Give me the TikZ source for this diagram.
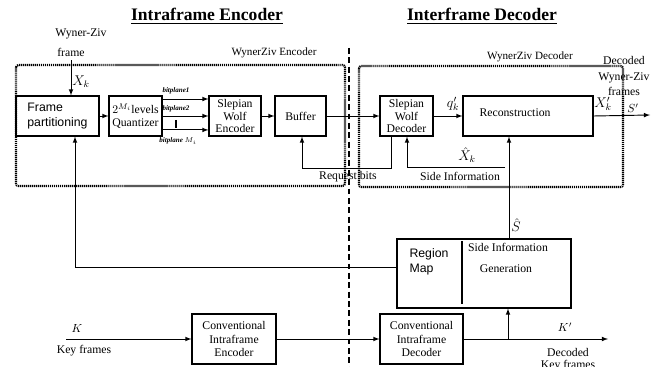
\documentclass[tikz,border=0pt]{standalone}
\usepackage{fontspec}
\setmainfont{Liberation Serif}
\setsansfont{Liberation Sans}
\usepackage{amsmath}
\usepackage{tikz}

\begin{document}
\begin{tikzpicture}[x=0.03cm, y=-0.03cm, >=latex, font=\fontsize{10}{10.5}\selectfont,
  blk/.style = {draw, line width=1pt, inner sep=1pt, align=center, minimum height=1.2cm},
  wz/.style = {draw, line width=1.8pt, dash pattern=on 1pt off 0.7pt, rounded corners=2pt},
  bp/.style = {font=\fontsize{6}{6}\selectfont\bfseries\itshape, inner sep=0pt},
  sym/.style = {font=\large, inner sep=0.5pt},
  lnk/.style = {->, line width=0.8pt}]
  \useasboundingbox (0,0) rectangle (661,367);
  \node (intra) at (207,16) {\fontsize{15}{17}\selectfont\bfseries\underline{Intraframe Encoder}};
  \node (inter) at (482,16) {\fontsize{15}{17}\selectfont\bfseries\underline{Interframe Decoder}};
  \draw[line width=1.5pt, dash pattern=on 5pt off 3pt] (349,48) -- (349,367);
  \draw[wz] (16,65) rectangle (345,186);
  \draw[wz] (359,66) rectangle (623,187);
  \node (enclab) at (274,53) {\fontsize{9.5}{10}\selectfont WynerZiv Encoder};
  \node (declab) at (530,57) {\fontsize{9.5}{10}\selectfont WynerZiv Decoder};

  \node[blk, font=\sffamily\fontsize{10.5}{13}\selectfont, align=left, minimum width=2.49cm] (part) at (57.5,116) {Frame\\partitioning};
  \node[blk, minimum width=1.59cm] (quant) at (135.5,116) {$2^{M_i}$levels\\Quantizer};
  \node[blk, minimum width=1.56cm] (swe) at (235,116) {Slepian\\Wolf\\Encoder};
  \node[blk, minimum width=1.53cm] (buf) at (300.5,116) {Buffer};
  \node[blk, minimum width=1.59cm] (swd) at (406.5,116) {Slepian\\Wolf\\Decoder};
  \node[blk, minimum width=3.9cm] (recon) at (528,116) {};
  \node (recontxt) at (515,113) {Reconstruction};
  \node[blk, minimum width=5.22cm, minimum height=2.07cm] (rmap) at (484,273.5) {};
  \draw[line width=1pt] (462,241) -- (462,304);
  \node[font=\sffamily\fontsize{10.5}{13}\selectfont, align=left] (region) at (429,262) {Region\\Map};
  \node (sigen) at (508,247) {Side Information};
  \node (gen) at (506,269) {Generation};
  \node[blk, minimum width=2.52cm, minimum height=1.5cm, font=\fontsize{10}{11.5}\selectfont] (cenc) at (234,339) {Conventional\\Intraframe\\Encoder};
  \node[blk, minimum width=2.49cm, minimum height=1.5cm, font=\fontsize{10}{11.5}\selectfont] (cdec) at (421.5,339) {Conventional\\Intraframe\\Decoder};

  \node (wzf1) at (81,34) {Wyner-Ziv};
  \node (wzf2) at (71,52) {frame};
  \node[sym] (xk) at (81,82) {$X_k$};
  \draw[lnk] (wzf2) -- (wzf2 |- part.north);
  \draw[lnk] (part) -- (quant);
  \draw[lnk] ([yshift=14.5pt]quant.east) -- ([yshift=14.5pt]swe.west);
  \draw[lnk] (quant) -- (swe);
  \draw[lnk] ([yshift=-11.9pt]quant.east) -- ([yshift=-11.9pt]swe.west);
  \node[bp] (bp1) at (176,91) {bitplane1};
  \node[bp] (bp2) at (176,109) {bitplane2};
  \node[bp] (bp3) at (178,141) {bitplane $M_i$};
  \draw[line width=1.5pt] (176,120) -- (176,128);
  \draw[lnk] (swe) -- (buf);
  \draw[lnk] (buf) -- (swd);
  \draw[lnk] (swd) -- (recon);
  \node[sym] (qk) at (453,104) {$q'_k$};
  \coordinate (wzout) at (650,115);
  \draw[lnk] (recon.east) -- (wzout);
  \node[sym] (xo) at (603,104) {$X'_k$};
  \node (so) at (633,108) {$S'$};
  \node[align=center, font=\fontsize{10}{13}\selectfont] (decwz) at (624,76) {Decoded\\Wyner-Ziv\\frames};

  % request bits / side information
  \coordinate (rq1) at (391,168);
  \coordinate (rq2) at (302,168);
  \draw[lnk] (rq1 |- swd.south) -- (rq1) -- (rq2) -- (rq2 |- buf.south);
  \node (rqlab) at (348,177) {Request bits};
  \coordinate (si1) at (505,167);
  \coordinate (si2) at (407,167);
  \draw[lnk] (si1) -- (si2) -- (si2 |- swd.south);
  \node[sym] (xhat) at (467,155) {$\hat{X}_k$};
  \node (silab) at (460,176) {Side Information};
  \coordinate (sh) at (509,200);
  \draw[lnk] (sh |- rmap.north) -- (sh |- recon.south);
  \node[sym] (shat) at (516,225) {$\hat{S}$};
  \coordinate (fb) at (75,267);
  \draw[lnk] (rmap.west |- fb) -- (fb) -- (fb |- part.south);

  % key frames
  \coordinate (kin) at (66,339);
  \coordinate (kout) at (608,339);
  \coordinate (kb) at (508,339);
  \draw[lnk] (kin) -- (cenc);
  \draw[lnk] (cenc) -- (cdec);
  \draw[lnk] (cdec) -- (kout);
  \draw[lnk] (kb) -- (kb |- rmap.south);
  \node (klab) at (77,328) {$K$};
  \node (kf) at (84,351) {Key frames};
  \node (kplab) at (565,327) {$K'$};
  \node (dk1) at (568,352) {Decoded};
  \node (dk2) at (568,366) {Key frames};
\end{tikzpicture}
\end{document}
